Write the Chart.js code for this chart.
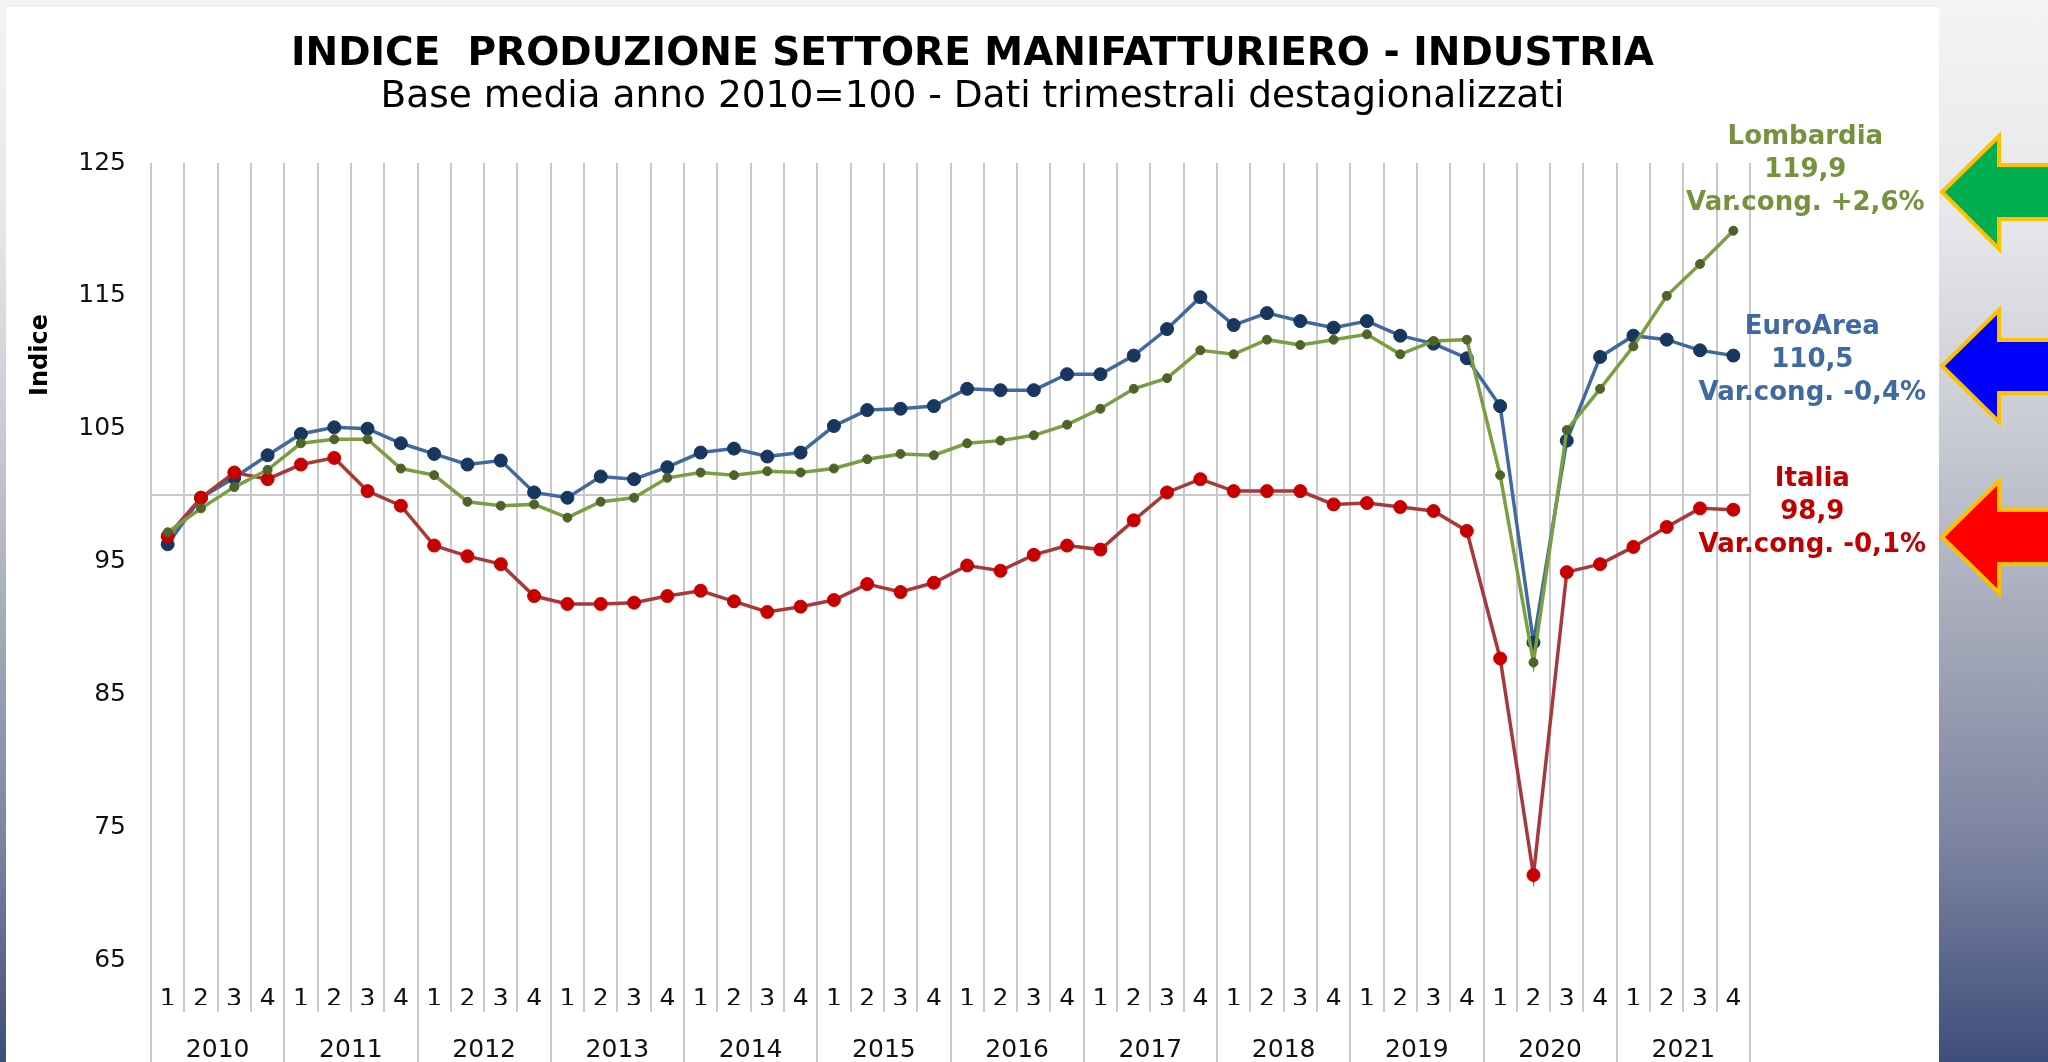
<!DOCTYPE html>
<html>
<head>
<meta charset="utf-8">
<script src="https://cdn.jsdelivr.net/npm/chart.js@4"></script>
<style>
html,body{margin:0;padding:0;width:2048px;height:1062px;overflow:hidden;}
body{position:relative;background:linear-gradient(to bottom,#f4f4f5 0%,#e7e8eb 20%,#c9ccd4 40%,#a3a8b8 60%,#7a82a0 80%,#3e4e7a 100%);font-family:"DejaVu Sans",sans-serif;}
#panel{position:absolute;left:6px;top:7px;width:1933px;height:1055px;background:#ffffff;}
#ylab{position:absolute;left:38.5px;top:355px;transform:translate(-50%,-50%) rotate(-90deg);font:bold 24px "DejaVu Sans";color:#000;white-space:nowrap;}
#arrows{position:absolute;left:0;top:0;}
</style>
</head>
<body>
<div id="panel"><canvas id="c" width="1933" height="1055"></canvas></div>
<div id="ylab">Indice</div>
<svg id="arrows" width="2048" height="1062">
  <polygon points="1942,192 1999,136 1999,165 2060,165 2060,219 1999,219 1999,249" fill="#00b050" stroke="#ffc000" stroke-width="4"/>
  <polygon points="1942,366 1999,310 1999,340 2060,340 2060,393 1999,393 1999,422" fill="#0000ff" stroke="#ffc000" stroke-width="4"/>
  <polygon points="1942,537 1999,481 1999,510 2060,510 2060,564 1999,564 1999,593" fill="#ff0000" stroke="#ffc000" stroke-width="4"/>
</svg>
<script>
// ---- data ----
const quarterLabels = ['1','2','3','4','1','2','3','4','1','2','3','4','1','2','3','4',
                       '1','2','3','4','1','2','3','4','1','2','3','4','1','2','3','4',
                       '1','2','3','4','1','2','3','4','1','2','3','4','1','2','3','4'];
const yearLabels = ['2010','2011','2012','2013','2014','2015','2016','2017','2018','2019','2020','2021'];

const lombardia = [97.2,99.0,100.6,101.9, 103.9,104.2,104.2,102.0, 101.5,99.5,99.2,99.3,
                   98.3,99.5,99.8,101.3, 101.7,101.5,101.8,101.7, 102.0,102.7,103.1,103.0,
                   103.9,104.1,104.5,105.3, 106.5,108.0,108.8,110.9, 110.6,111.7,111.3,111.7,
                   112.1,110.6,111.6,111.7, 101.5,87.4,104.9,108.0, 111.2,115.0,117.4,119.9];
const euroArea = [96.3,99.8,101.3,103.0, 104.6,105.1,105.0,103.9, 103.1,102.3,102.6,100.2,
                  99.8,101.4,101.2,102.1, 103.2,103.5,102.9,103.2, 105.2,106.4,106.5,106.7,
                  108.0,107.9,107.9,109.1, 109.1,110.5,112.5,114.9, 112.8,113.7,113.1,112.6,
                  113.1,112.0,111.4,110.3, 106.7,88.9,104.1,110.4, 112.0,111.7,110.9,110.5];
const italia = [96.9,99.8,101.7,101.2, 102.3,102.8,100.3,99.2, 96.2,95.4,94.8,92.4,
                91.8,91.8,91.9,92.4, 92.8,92.0,91.2,91.6, 92.1,93.3,92.7,93.4,
                94.7,94.3,95.5,96.2, 95.9,98.1,100.2,101.2, 100.3,100.3,100.3,99.3,
                99.4,99.1,98.8,97.3, 87.7,71.4,94.2,94.8, 96.1,97.6,99.0,98.9];

const seriesNames = ['Lombardia','Italia','EuroArea'];
const lastValueLabels = ['119,9','98,9','110,5'];
const varCongLabels = ['Var.cong. +2,6%','Var.cong. -0,1%','Var.cong. -0,4%'];
const baseValue = 100;

const chartTitle = 'INDICE  PRODUZIONE SETTORE MANIFATTURIERO - INDUSTRIA';
const chartSubtitle = 'Base media anno 2010=100 - Dati trimestrali destagionalizzati';

// ---- styles ----
const lineColors = ['#7a9e40','#a8393a','#3f6aa1'];
const markerColors = ['#4f6228','#c80000','#17375e'];
const textColors = ['#76923c','#c00000','#3f6aa1'];
const markerRadius = [4.5,6.5,6.5];
const labelOffsets = [{dx:72,dy:-62},{dx:79,dy:1},{dx:79,dy:3}];

const FONT = '"DejaVu Sans"';
Chart.defaults.font.family = FONT;

const baseLinePlugin = {
  id:'baseLine',
  beforeDatasetsDraw(chart){
    const {ctx, chartArea, scales} = chart;
    const y = scales.y.getPixelForValue(baseValue);
    ctx.save();
    ctx.strokeStyle = '#c8c8c8';
    ctx.lineWidth = 2;
    ctx.beginPath();
    ctx.moveTo(chartArea.left, y);
    ctx.lineTo(chartArea.right, y);
    ctx.stroke();
    ctx.restore();
  }
};

const sideLabelsPlugin = {
  id:'sideLabels',
  afterDatasetsDraw(chart){
    const ctx = chart.ctx;
    ctx.save();
    ctx.font = 'bold 26px ' + FONT;
    ctx.textAlign = 'center';
    ctx.textBaseline = 'middle';
    chart.data.datasets.forEach((ds, i) => {
      const meta = chart.getDatasetMeta(i);
      const pt = meta.data[meta.data.length - 1];
      const cx = pt.x + labelOffsets[i].dx;
      const cy = pt.y + labelOffsets[i].dy + 2;
      ctx.fillStyle = textColors[i];
      ctx.fillText(seriesNames[i], cx, cy - 33.5);
      ctx.fillText(lastValueLabels[i], cx, cy);
      ctx.fillText(varCongLabels[i], cx, cy + 33);
    });
    ctx.restore();
  }
};

const seriesData = [lombardia, italia, euroArea];
const datasets = seriesData.map((d, i) => ({
  label: seriesNames[i],
  data: d,
  borderColor: lineColors[i],
  borderWidth: 3.5,
  pointRadius: markerRadius[i],
  pointBackgroundColor: markerColors[i],
  pointBorderColor: markerColors[i],
  pointBorderWidth: 1,
  tension: 0,
  fill: false
}));

new Chart(document.getElementById('c'), {
  type:'line',
  data:{ labels: quarterLabels, datasets },
  plugins:[baseLinePlugin, sideLabelsPlugin],
  options:{
    responsive:false,
    animation:false,
    events:[],
    layout:{ padding:{ left:0, right:0, top:0, bottom:0 } },
    plugins:{
      legend:{ display:false },
      tooltip:{ enabled:false },
      title:{ display:true, text:chartTitle, color:'#000',
              font:{ size:39, weight:'bold', family:FONT, lineHeight:1.0 },
              padding:{ top:28.5, bottom:4.5 } },
      subtitle:{ display:true, text:chartSubtitle, color:'#000',
              font:{ size:37.5, weight:'normal', family:FONT, lineHeight:1.0 },
              padding:{ top:0, bottom:46.5 } }
    },
    scales:{
      x:{
        type:'category', offset:true, weight:0,
        grid:{ offset:true, color:'#c8c8c8', lineWidth:2, drawOnChartArea:true, drawTicks:true, tickLength:52, tickColor:'#c8c8c8' },
        border:{ display:false },
        ticks:{ autoSkip:false, maxRotation:0, minRotation:0, padding:-28, color:'#111', font:{ size:25, family:FONT } },
        afterFit(s){ s.height = 45; }
      },
      x2:{
        type:'category', labels:yearLabels, offset:true, position:'bottom', weight:1,
        grid:{ offset:true, color:'#c8c8c8', lineWidth:2, drawOnChartArea:false, drawTicks:true, tickLength:57, tickColor:'#c8c8c8' },
        border:{ display:false },
        ticks:{ autoSkip:false, maxRotation:0, minRotation:0, padding:-27, color:'#111', font:{ size:25, family:FONT } },
        afterFit(s){ s.height = 57; }
      },
      y:{
        min:65, max:125,
        ticks:{ stepSize:10, padding:25, color:'#111', font:{ size:25, family:FONT } },
        grid:{ display:false, drawTicks:false },
        border:{ display:false },
        afterFit(s){ s.width = 145; }
      },
      yRight:{
        type:'linear', position:'right', min:0, max:1,
        ticks:{ display:false },
        grid:{ display:false, drawTicks:false },
        border:{ display:false },
        afterFit(s){ s.width = 189; }
      }
    }
  }
});
</script>
</body>
</html>
